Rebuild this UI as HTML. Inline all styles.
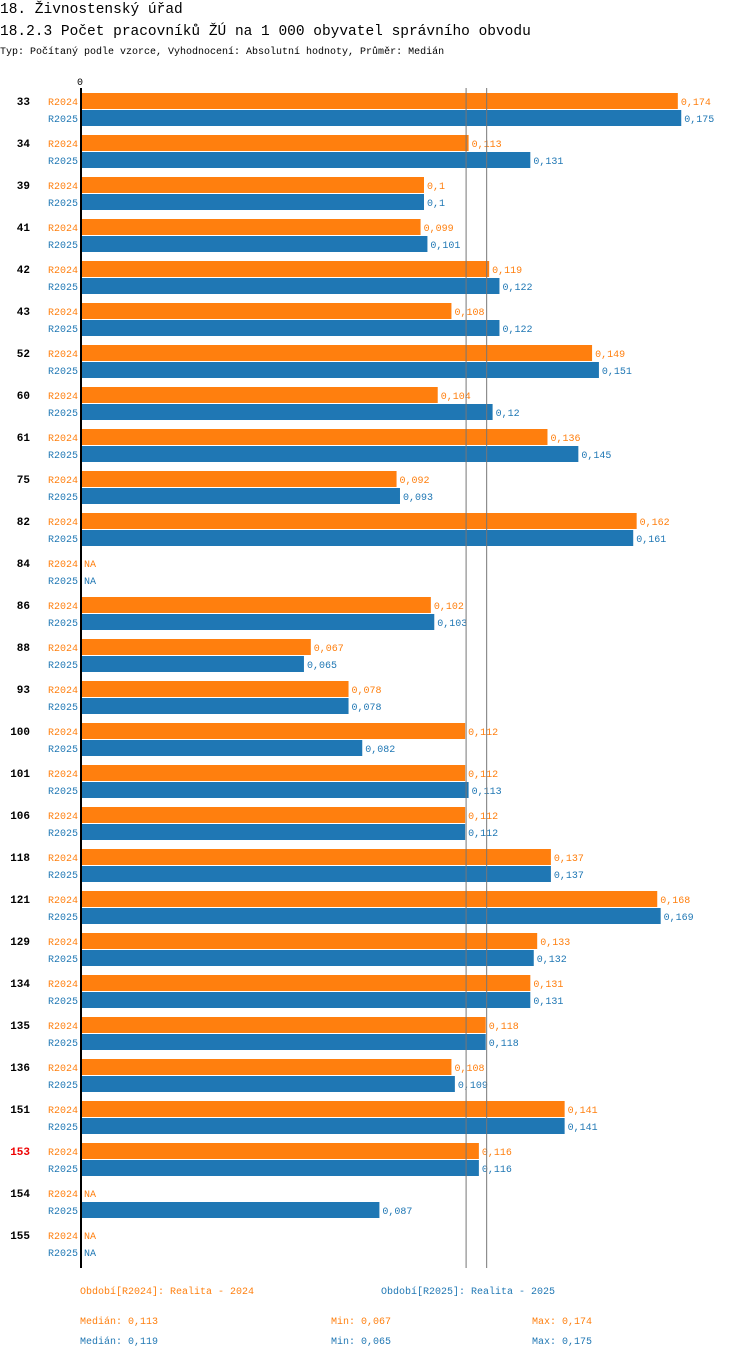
<!DOCTYPE html>
<html><head><meta charset="utf-8"><style>
body{margin:0;background:#fff;width:750px;height:1358px;overflow:hidden;font-family:"Liberation Mono",monospace}
svg{display:block}
</style></head><body>
<svg id="c" width="750" height="1358">
<text x="0" y="13" font-size="14.5" fill="#000">18. Živnostenský úřad</text>
<text x="0" y="35" font-size="14.5" fill="#000">18.2.3 Počet pracovníků ŽÚ na 1 000 obyvatel správního obvodu</text>
<text x="0" y="54" font-size="10" fill="#000">Typ: Počítaný podle vzorce, Vyhodnocení: Absolutní hodnoty, Průměr: Medián</text>
<text x="80" y="85" font-size="10" text-anchor="middle">0</text>
<g id="bars"></g>
<line x1="81" y1="88" x2="81" y2="1268" stroke="#000" stroke-width="2"/>
<g font-size="10">
<text x="80" y="1294" fill="#ff7f0e">Období[R2024]: Realita - 2024</text>
<text x="381" y="1294" fill="#1f77b4">Období[R2025]: Realita - 2025</text>
<text x="80" y="1324" fill="#ff7f0e">Medián: 0,113</text>
<text x="331" y="1324" fill="#ff7f0e">Min: 0,067</text>
<text x="532" y="1324" fill="#ff7f0e">Max: 0,174</text>
<text x="80" y="1344" fill="#1f77b4">Medián: 0,119</text>
<text x="331" y="1344" fill="#1f77b4">Min: 0,065</text>
<text x="532" y="1344" fill="#1f77b4">Max: 0,175</text>
</g>
</svg>
<script>
const categories=["33","34","39","41","42","43","52","60","61","75","82","84","86","88","93","100","101","106","118","121","129","134","135","136","151","153","154","155"];
const r2024=[0.174,0.113,0.1,0.099,0.119,0.108,0.149,0.104,0.136,0.092,0.162,null,0.102,0.067,0.078,0.112,0.112,0.112,0.137,0.168,0.133,0.131,0.118,0.108,0.141,0.116,null,null];
const r2025=[0.175,0.131,0.1,0.101,0.122,0.122,0.151,0.12,0.145,0.093,0.161,null,0.103,0.065,0.078,0.082,0.113,0.112,0.137,0.169,0.132,0.131,0.118,0.109,0.141,0.116,0.087,null];
const medians=[0.113,0.119];
const highlight="153";
const NS="http://www.w3.org/2000/svg";
const g=document.getElementById('bars');
const x=v=>81+v*3430;
const y0=93,pitch=42;
const cols=["#ff7f0e","#1f77b4"],names=["R2024","R2025"];
function mk(t,a){const e=document.createElementNS(NS,t);for(const k in a)e.setAttribute(k,a[k]);g.appendChild(e);return e;}
categories.forEach((c,i)=>{
  const top=y0+i*pitch;
  const t=mk('text',{x:30,y:top+12,'font-size':11,'font-weight':'bold','text-anchor':'end',fill:c===highlight?'#e00':'#000'});
  t.textContent=c;
  
  
  [r2024[i],r2025[i]].forEach((v,s)=>{
    const by=top+s*17;
    const l=mk('text',{x:78,y:by+12,'font-size':10,'text-anchor':'end',fill:cols[s]});
    l.textContent=names[s];
    
    
    const vt=mk('text',{y:by+12,'font-size':10,fill:cols[s]});
    
    
    if(v==null){vt.setAttribute('x',84);vt.textContent='NA';return;}
    const r=mk('rect',{x:81,y:by,width:x(v)-81,height:16,fill:cols[s]});
    
    
    vt.setAttribute('x',x(v)+3);
    vt.textContent=String(v).replace('.',',');
  });
});
medians.forEach((m,s)=>{
  const l=mk('line',{x1:x(m)-2.5,x2:x(m)-2.5,y1:88,y2:1268,stroke:'#777','stroke-width':1});
  
  
});
</script>
</body></html>
